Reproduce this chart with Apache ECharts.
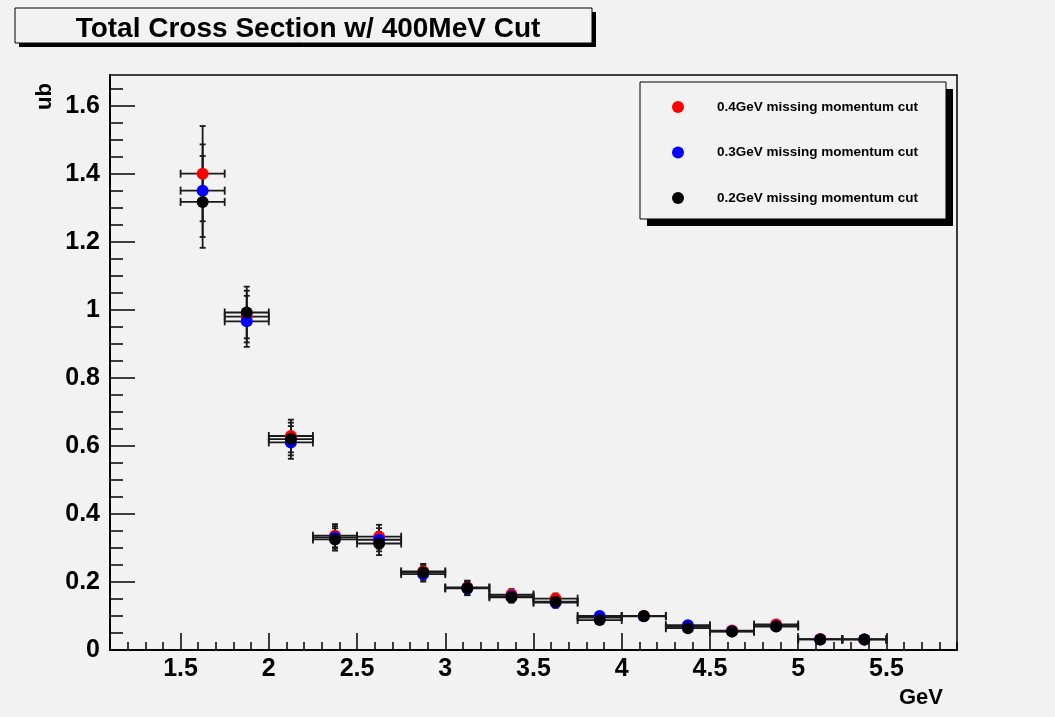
<!DOCTYPE html>
<html>
<head>
<meta charset="utf-8">
<title>Total Cross Section w/ 400MeV Cut</title>
<script src="https://cdn.jsdelivr.net/npm/echarts@6/dist/echarts.min.js"></script>
<style>
  html, body { margin: 0; padding: 0; background: #f2f2f2; }
  #chart { width: 1055px; height: 717px; }
</style>
</head>
<body>
<div id="chart"></div>
<script>
// Bin centres (GeV), each bin 0.25 GeV wide
const binCenters = [1.625, 1.875, 2.125, 2.375, 2.625, 2.875, 3.125, 3.375,
                    3.625, 3.875, 4.125, 4.375, 4.625, 4.875, 5.125, 5.375];
const binHalfWidth = 0.125;

// Cross section (ub) and its uncertainty for each missing-momentum cut
const cut04 = [1.400, 0.980, 0.629, 0.336, 0.333, 0.231, 0.184, 0.163,
               0.151, 0.095, 0.100, 0.068, 0.057, 0.075, 0.032, 0.031];
const cut04Err = [0.140, 0.076, 0.048, 0.034, 0.035, 0.022, 0.020, 0.016,
                  0.015, 0.012, 0.012, 0.010, 0.009, 0.010, 0.007, 0.007];
const cut03 = [1.350, 0.966, 0.610, 0.331, 0.324, 0.223, 0.181, 0.158,
               0.139, 0.100, 0.099, 0.073, 0.055, 0.070, 0.031, 0.031];
const cut03Err = [0.136, 0.075, 0.048, 0.033, 0.034, 0.022, 0.020, 0.016,
                  0.015, 0.012, 0.012, 0.010, 0.009, 0.010, 0.007, 0.007];
const cut02 = [1.317, 0.992, 0.620, 0.325, 0.313, 0.228, 0.182, 0.155,
               0.142, 0.088, 0.100, 0.064, 0.054, 0.069, 0.031, 0.031];
const cut02Err = [0.135, 0.076, 0.048, 0.033, 0.034, 0.022, 0.020, 0.016,
                  0.015, 0.012, 0.012, 0.010, 0.009, 0.010, 0.007, 0.007];

const seriesNames = ['0.4GeV missing momentum cut',
                     '0.3GeV missing momentum cut',
                     '0.2GeV missing momentum cut'];

// Axis tick labels
const xTickLabels = [1.5, 2, 2.5, 3, 3.5, 4, 4.5, 5, 5.5];
const yTickLabels = [0, 0.2, 0.4, 0.6, 0.8, 1, 1.2, 1.4, 1.6];

const X_MIN = 1.1, X_MAX = 5.9, Y_MIN = 0, Y_MAX = 1.69;

// minor tick positions: x every 0.1, y every 0.05
const xMinor = [];
for (let i = 11; i <= 59; i++) xMinor.push(+(i / 10).toFixed(2));
const yMinor = [];
for (let i = 0; i <= 33; i++) yMinor.push(+(i * 0.05).toFixed(2));

const FONT = '"Liberation Sans", Arial, Helvetica, sans-serif';
const INK = '#000';
const BAR = '#1a1a1a';

function rows(vals, errs) {
  return binCenters.map((x, i) => [x, vals[i], errs[i]]);
}

// Error bars: horizontal bar spans the bin, vertical bar spans the uncertainty
function errorBarItem(params, api) {
  const x = api.value(0), y = api.value(1), e = api.value(2);
  const pL = api.coord([x - binHalfWidth, y]);
  const pR = api.coord([x + binHalfWidth, y]);
  const pT = api.coord([x, y + e]);
  const pB = api.coord([x, y - e]);
  const st = { stroke: BAR, lineWidth: 1.8 };
  const capH = 4, capV = 3;
  return {
    type: 'group',
    children: [
      { type: 'line', shape: { x1: pL[0], y1: pL[1], x2: pR[0], y2: pR[1] }, style: st },
      { type: 'line', shape: { x1: pL[0], y1: pL[1] - capH, x2: pL[0], y2: pL[1] + capH }, style: st },
      { type: 'line', shape: { x1: pR[0], y1: pR[1] - capH, x2: pR[0], y2: pR[1] + capH }, style: st },
      { type: 'line', shape: { x1: pT[0], y1: pT[1], x2: pB[0], y2: pB[1] }, style: st },
      { type: 'line', shape: { x1: pT[0] - capV, y1: pT[1], x2: pT[0] + capV, y2: pT[1] }, style: st },
      { type: 'line', shape: { x1: pB[0] - capV, y1: pB[1], x2: pB[0] + capV, y2: pB[1] }, style: st }
    ]
  };
}

function graphSeries(name, color, vals, errs) {
  return [
    {
      type: 'custom',
      name: name + ' errors',
      renderItem: errorBarItem,
      data: rows(vals, errs),
      encode: { x: 0, y: 1 },
      silent: true
    },
    {
      type: 'scatter',
      name: name,
      data: binCenters.map((x, i) => [x, vals[i]]),
      symbol: 'circle',
      symbolSize: 12,
      itemStyle: { color: color, opacity: 1 }
    }
  ];
}

const chart = echarts.init(document.getElementById('chart'), null, { renderer: 'canvas' });

const grid = { left: 110, top: 75, right: 98, bottom: 67, containLabel: false,
               show: true, backgroundColor: 'transparent', borderColor: INK, borderWidth: 1.5 };

const option = {
  backgroundColor: '#f2f2f2',
  animation: false,
  title: {
    text: 'Total Cross Section w/ 400MeV Cut',
    left: 303,
    top: 10,
    textAlign: 'center',
    textStyle: { fontFamily: FONT, fontWeight: 'bold', fontSize: 28, color: INK }
  },
  legend: {
    orient: 'vertical',
    left: 667,
    top: 95,
    itemWidth: 12,
    itemHeight: 12,
    itemGap: 31.5,
    icon: 'circle',
    data: seriesNames,
    textStyle: { fontFamily: FONT, fontWeight: 'bold', fontSize: 13.5, color: INK,
                 padding: [0, 0, 0, 28] }
  },
  grid: grid,
  xAxis: [
    {
      type: 'value', min: X_MIN, max: X_MAX, position: 'bottom',
      axisLine: { show: true, onZero: false, lineStyle: { color: INK, width: 2 } },
      axisTick: { show: true, inside: true, length: 8, customValues: xMinor,
                  lineStyle: { color: INK, width: 1.5 } },
      axisLabel: { customValues: xTickLabels, margin: 7,
                   fontFamily: FONT, fontWeight: 'bold', fontSize: 25, color: INK },
      splitLine: { show: false }
    },
    {
      type: 'value', min: X_MIN, max: X_MAX, position: 'bottom', offset: 0,
      axisLine: { show: false, onZero: false },
      axisTick: { show: true, inside: true, length: 17, customValues: xTickLabels,
                  lineStyle: { color: INK, width: 1.5 } },
      axisLabel: { show: false },
      splitLine: { show: false }
    }
  ],
  yAxis: [
    {
      type: 'value', min: Y_MIN, max: Y_MAX, position: 'left',
      axisLine: { show: true, onZero: false, lineStyle: { color: INK, width: 2 } },
      axisTick: { show: true, inside: true, length: 13, customValues: yMinor,
                  lineStyle: { color: INK, width: 1.5 } },
      axisLabel: { customValues: yTickLabels, margin: 10,
                   fontFamily: FONT, fontWeight: 'bold', fontSize: 25, color: INK },
      splitLine: { show: false }
    },
    {
      type: 'value', min: Y_MIN, max: Y_MAX, position: 'left', offset: 0,
      axisLine: { show: false, onZero: false },
      axisTick: { show: true, inside: true, length: 25, customValues: yTickLabels,
                  lineStyle: { color: INK, width: 1.5 } },
      axisLabel: { show: false },
      splitLine: { show: false }
    }
  ],
  graphic: [
    // title box with drop shadow
    { type: 'rect', z: -2, shape: { x: 19, y: 12, width: 577, height: 35 }, style: { fill: INK } },
    { type: 'rect', z: -1, shape: { x: 15, y: 8, width: 577, height: 35 },
      style: { fill: '#f2f2f2', stroke: INK, lineWidth: 1 } },
    // legend box with drop shadow
    { type: 'rect', z: -2, shape: { x: 647, y: 89, width: 306, height: 137 }, style: { fill: INK } },
    { type: 'rect', z: -1, shape: { x: 640, y: 82, width: 306, height: 137 },
      style: { fill: '#f2f2f2', stroke: INK, lineWidth: 1 } },
    // axis titles
    { type: 'text', right: 112, top: 687,
      style: { text: 'GeV', font: 'bold 22px ' + FONT, fill: INK } },
    { type: 'text', x: 34, y: 110, rotation: Math.PI / 2,
      style: { text: 'ub', font: 'bold 22px ' + FONT, fill: INK } }
  ],
  series: [
    ...graphSeries(seriesNames[0], '#ff0000', cut04, cut04Err),
    ...graphSeries(seriesNames[1], '#0000ff', cut03, cut03Err),
    ...graphSeries(seriesNames[2], '#000000', cut02, cut02Err)
  ]
};

chart.setOption(option);
</script>
</body>
</html>
